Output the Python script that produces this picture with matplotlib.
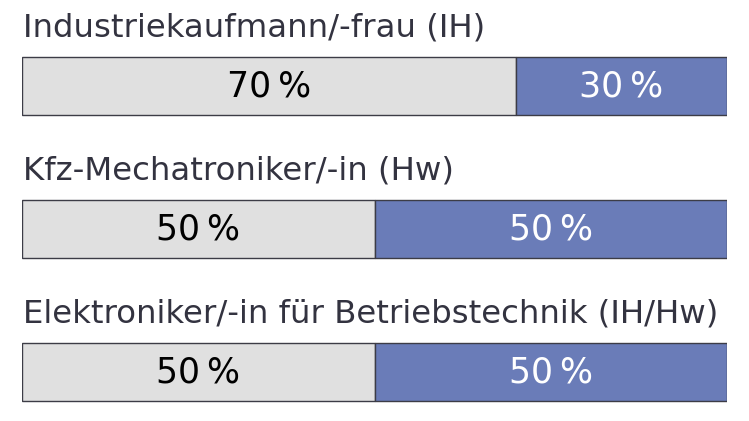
import matplotlib
matplotlib.use("Agg")
import matplotlib.pyplot as plt

titles = ["Industriekaufmann/-frau (IH)",
          "Kfz-Mechatroniker/-in (Hw)",
          "Elektroniker/-in für Betriebstechnik (IH/Hw)"]
share_a = [70, 50, 50]
share_b = [30, 50, 50]

W, H = 749, 421
fig = plt.figure(figsize=(W/100, H/100), dpi=100)
left_px, right_px = 22, 727
ax = fig.add_axes([left_px/W, 0, (right_px-left_px)/W, 1])
ax.set_xlim(0, 100)
ax.set_ylim((H-86)/143, -86/143)
ax.axis("off")

fam = ["DejaVu Sans"]
gray = "#E0E0E0"
blue = "#6A7CB8"
edge = "#3C3C46"
ypos = list(range(len(titles)))
ax.barh(ypos, share_a, height=58/143, color=gray, edgecolor=edge, linewidth=1.0)
ax.barh(ypos, share_b, left=share_a, height=58/143, color=blue, edgecolor=edge, linewidth=1.0)

for i, (t, a, b) in enumerate(zip(titles, share_a, share_b)):
    ax.text(0.2, i - 0.343, t, fontsize=23.3, family=fam, color="#333340",
            ha="left", va="baseline")
    ax.text(a/2, i + 0.075, f"{a}\u2009%", fontsize=25, family=fam, color="black",
            ha="center", va="baseline")
    ax.text(a + b/2, i + 0.075, f"{b}\u2009%", fontsize=25, family=fam, color="white",
            ha="center", va="baseline")

fig.savefig("out.png", dpi=100)
